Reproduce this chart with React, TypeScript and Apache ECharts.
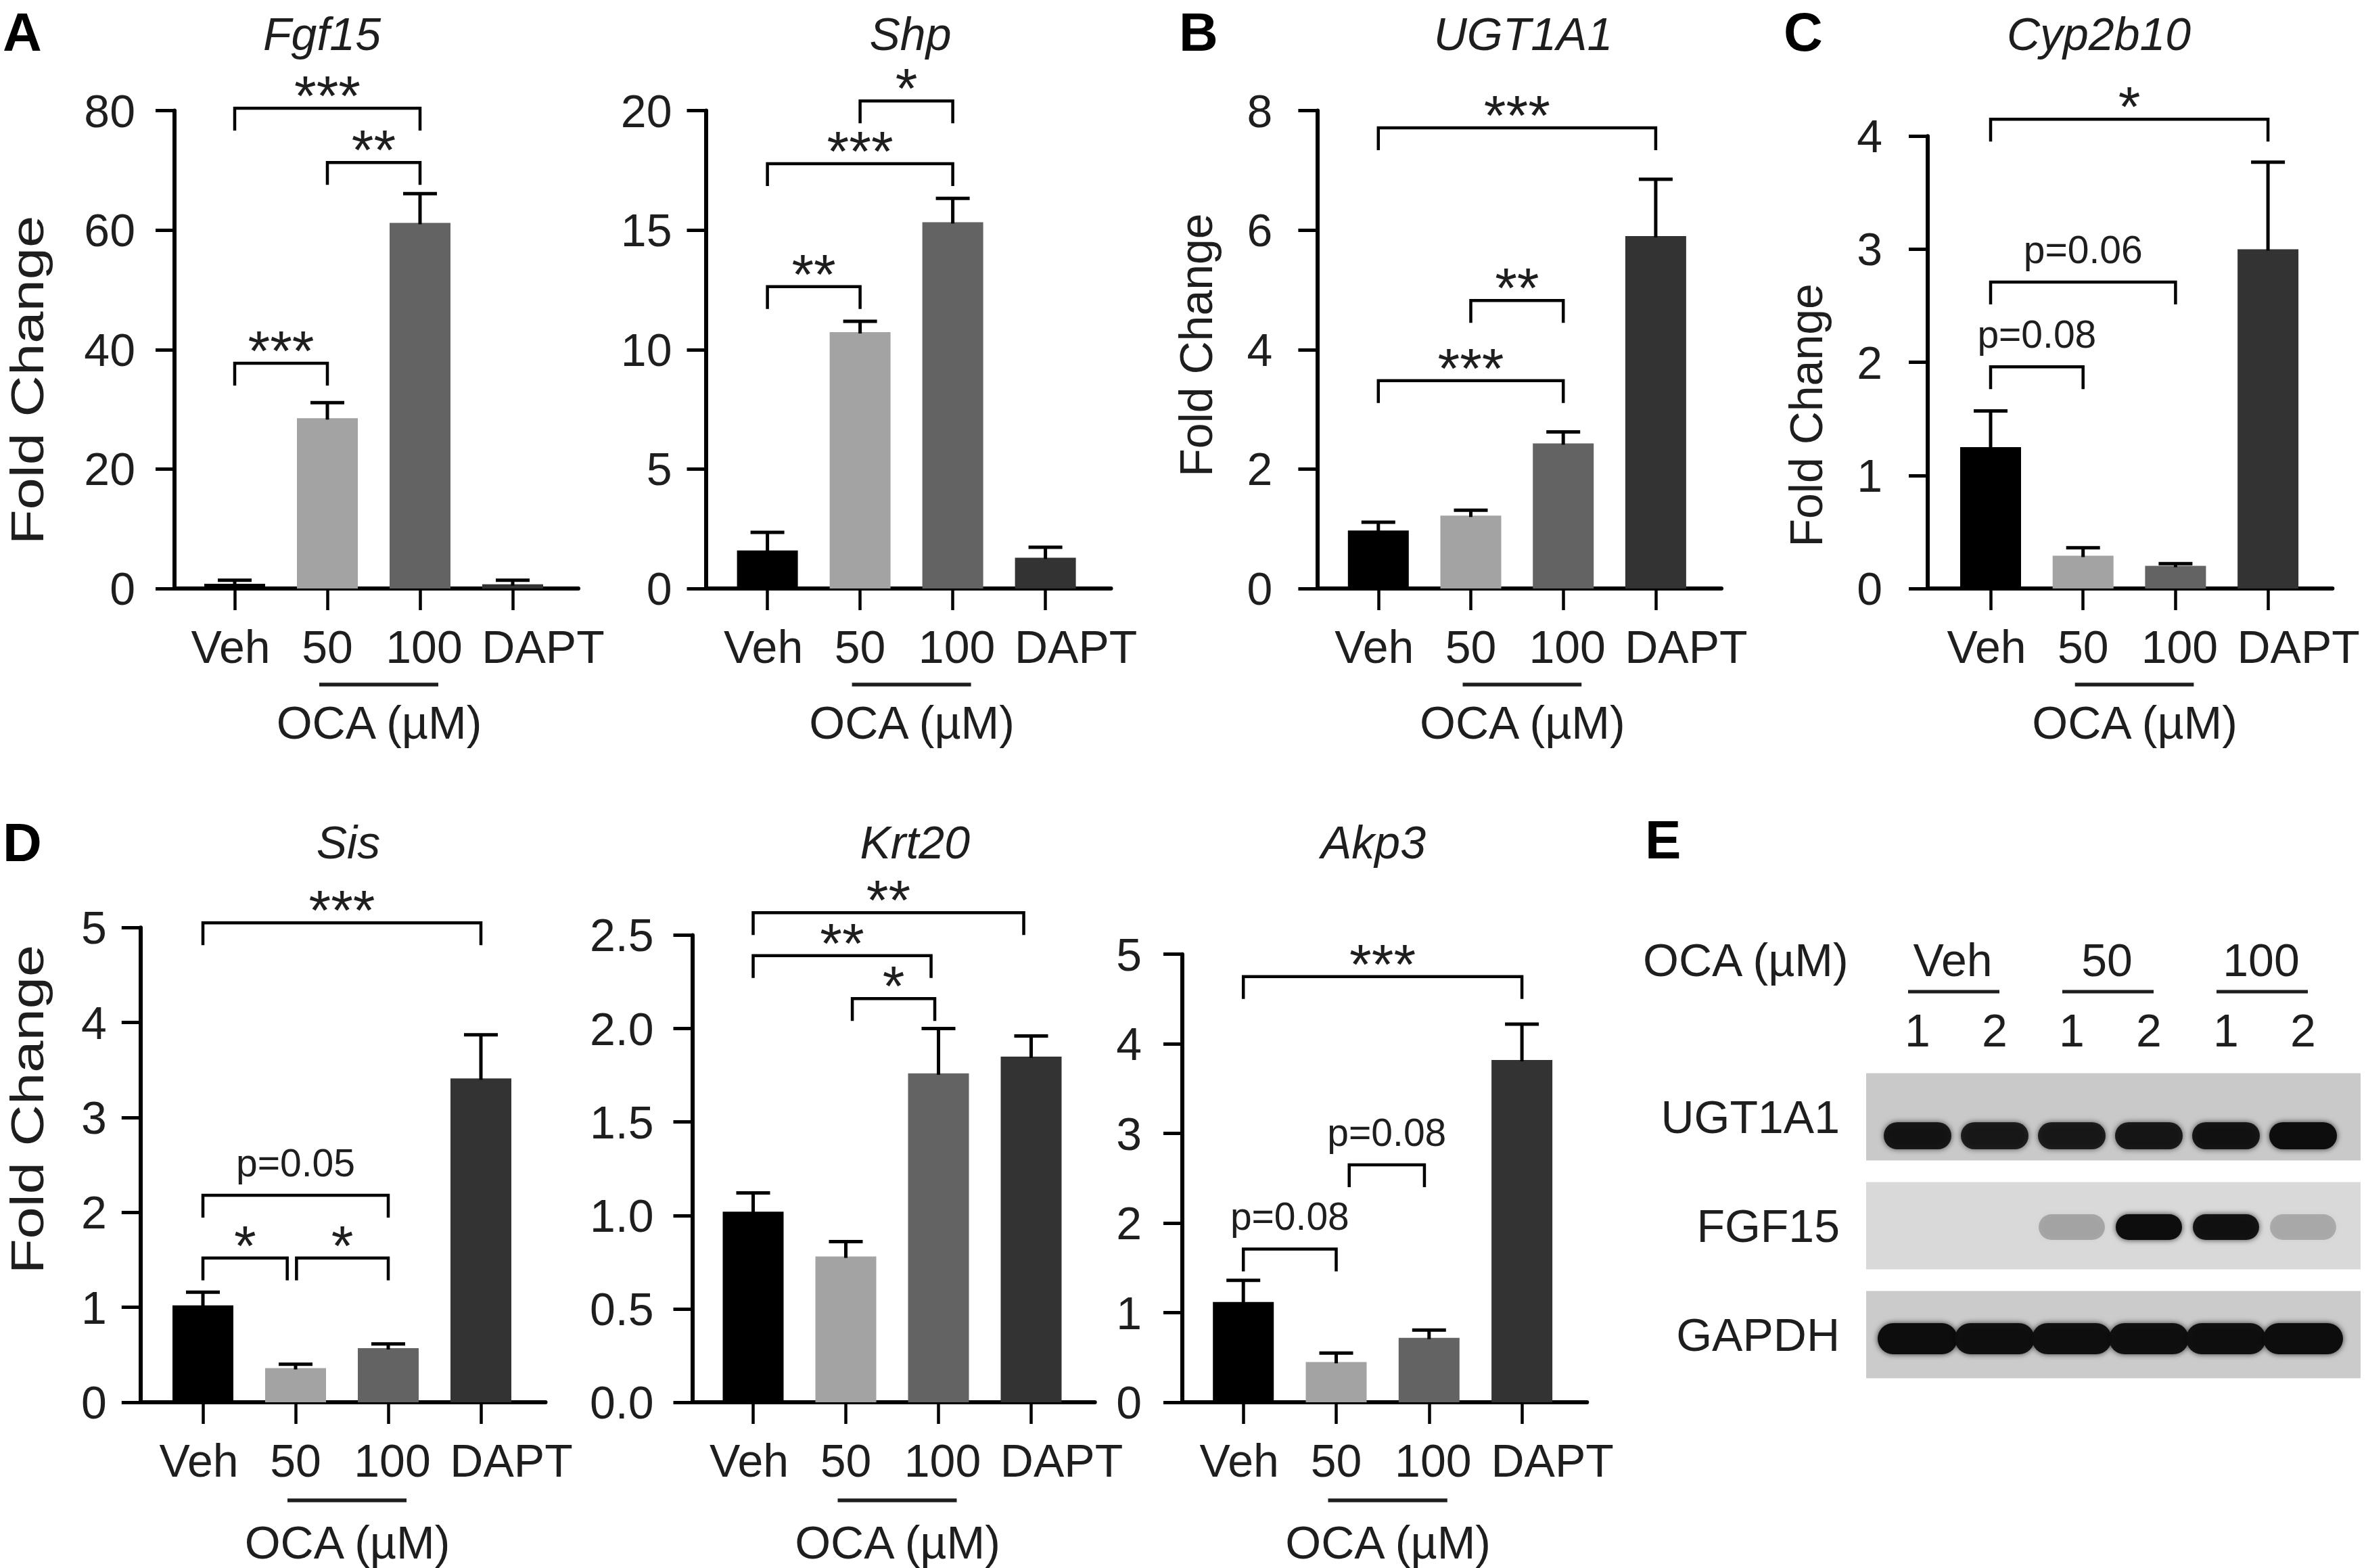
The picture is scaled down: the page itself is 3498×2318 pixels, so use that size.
import React, { useEffect, useRef } from "react";
import * as echarts from "echarts";

const FONT = '"Liberation Sans", Arimo, Arial, sans-serif';
const INK = "#1e1e1e";

const categories = ["Veh", "50", "100", "DAPT"];
const barColors = ["#000000", "#a3a3a3", "#636363", "#333333"];

// A – Fgf15
const fgf15Ticks = [0, 20, 40, 60, 80];
const fgf15Mean = [0.8, 28.5, 61.2, 0.7];
const fgf15Sem = [0.6, 2.6, 4.9, 0.7];
const fgf15Pairs = [[0, 2], [1, 2], [0, 1]];
const fgf15Levels = [80.4, 71.3, 37.7];
const fgf15Marks = ["***", "**", "***"];

// A – Shp
const shpTicks = [0, 5, 10, 15, 20];
const shpMean = [1.59, 10.73, 15.33, 1.29];
const shpSem = [0.76, 0.45, 1.0, 0.44];
const shpPairs = [[1, 2], [0, 2], [0, 1]];
const shpLevels = [20.4, 17.78, 12.63];
const shpMarks = ["*", "***", "**"];

// B – UGT1A1
const ugtTicks = [0, 2, 4, 6, 8];
const ugtMean = [0.97, 1.22, 2.43, 5.9];
const ugtSem = [0.14, 0.09, 0.19, 0.95];
const ugtPairs = [[0, 3], [1, 2], [0, 2]];
const ugtLevels = [7.71, 4.82, 3.48];
const ugtMarks = ["***", "**", "***"];

// C – Cyp2b10
const cypTicks = [0, 1, 2, 3, 4];
const cypMean = [1.25, 0.29, 0.2, 3.0];
const cypSem = [0.32, 0.07, 0.02, 0.77];
const cypPairs = [[0, 3], [0, 2], [0, 1]];
const cypLevels = [4.15, 2.71, 1.96];
const cypMarks = ["*", "p=0.06", "p=0.08"];

// D – Sis
const sisTicks = [0, 1, 2, 3, 4, 5];
const sisMean = [1.02, 0.36, 0.57, 3.41];
const sisSem = [0.14, 0.04, 0.045, 0.46];
const sisPairs = [[0, 3], [0, 2], [0, 0.91], [1.01, 2]];
const sisLevels = [5.05, 2.18, 1.52, 1.52];
const sisMarks = ["***", "p=0.05", "*", "*"];

// D – Krt20
const krtTicks = [0, 0.5, 1.0, 1.5, 2.0, 2.5];
const krtMean = [1.02, 0.78, 1.76, 1.85];
const krtSem = [0.1, 0.08, 0.24, 0.11];
const krtPairs = [[0, 2.92], [0, 1.92], [1.07, 1.96]];
const krtLevels = [2.62, 2.39, 2.16];
const krtMarks = ["**", "**", "*"];

// D – Akp3
const akpTicks = [0, 1, 2, 3, 4, 5];
const akpMean = [1.12, 0.45, 0.72, 3.82];
const akpSem = [0.24, 0.1, 0.085, 0.4];
const akpPairs = [[0, 3], [1.14, 1.95], [0, 1]];
const akpLevels = [4.75, 2.65, 1.71];
const akpMarks = ["***", "p=0.08", "p=0.08"];

// E – western blot
const blotGroups = ["Veh", "50", "100"];
const blotLanes = ["1", "2", "1", "2", "1", "2"];
const blotProteins = ["UGT1A1", "FGF15", "GAPDH"];
const ugtBand = [0.92, 0.88, 0.88, 0.9, 0.93, 1.0];
const fgfBand = [0.0, 0.0, 0.22, 1.0, 0.95, 0.2];
const gapdhBand = [1.0, 0.97, 0.97, 0.97, 0.97, 1.0];

// ---------- layout / style (not data) ----------
const TOP_ROW = { line: 142, text: 198 };
const BOTTOM_ROW = { line: 145, text: 207 };

const panels = [
  { title: "Fgf15", ticks: fgf15Ticks, mean: fgf15Mean, sem: fgf15Sem, pairs: fgf15Pairs, levels: fgf15Levels, marks: fgf15Marks, dec: 0,
    L: { axisX: 258, axisEnd: 855, top: 163.5, zero: 870, c0: 347, step: 137, lm: 58, tx: 476, ty: 50, row: TOP_ROW, yTitle: [40, 562, 1.25] } },
  { title: "Shp", ticks: shpTicks, mean: shpMean, sem: shpSem, pairs: shpPairs, levels: shpLevels, marks: shpMarks, dec: 0,
    L: { axisX: 1043.5, axisEnd: 1642.5, top: 163.5, zero: 870, c0: 1134.6, step: 137, lm: 50, tx: 1346, ty: 50, row: TOP_ROW } },
  { title: "UGT1A1", ticks: ugtTicks, mean: ugtMean, sem: ugtSem, pairs: ugtPairs, levels: ugtLevels, marks: ugtMarks, dec: 0,
    L: { axisX: 1947.4, axisEnd: 2545, top: 163.5, zero: 870, c0: 2037.8, step: 136.7, lm: 66, tx: 2252, ty: 50, row: TOP_ROW, yTitle: [1768, 510, 1.0] } },
  { title: "Cyp2b10", ticks: cypTicks, mean: cypMean, sem: cypSem, pairs: cypPairs, levels: cypLevels, marks: cypMarks, dec: 0,
    L: { axisX: 2850, axisEnd: 3448.4, top: 201.3, zero: 870, c0: 2943, step: 136.7, lm: 67, tx: 3103, ty: 50, row: TOP_ROW, yTitle: [2670, 613.8, 1.0] } },
  { title: "Sis", ticks: sisTicks, mean: sisMean, sem: sisSem, pairs: sisPairs, levels: sisLevels, marks: sisMarks, dec: 0,
    L: { axisX: 207.8, axisEnd: 806.5, top: 1371.2, zero: 2073, c0: 300, step: 137, lm: 50, tx: 515, ty: 1245, row: BOTTOM_ROW, yTitle: [40, 1640, 1.25] } },
  { title: "Krt20", ticks: krtTicks, mean: krtMean, sem: krtSem, pairs: krtPairs, levels: krtLevels, marks: krtMarks, dec: 1,
    L: { axisX: 1023.5, axisEnd: 1618.7, top: 1382.4, zero: 2073, c0: 1113.5, step: 137, lm: 57, tx: 1352.7, ty: 1245, row: BOTTOM_ROW } },
  { title: "Akp3", ticks: akpTicks, mean: akpMean, sem: akpSem, pairs: akpPairs, levels: akpLevels, marks: akpMarks, dec: 0,
    L: { axisX: 1748, axisEnd: 2346.3, top: 1410.7, zero: 2073, c0: 1838.2, step: 137.3, lm: 60, tx: 2030.5, ty: 1245, row: BOTTOM_ROW } },
];

const panelLetters: [string, number, number][] = [
  ["A", 4, 47], ["B", 1743, 47], ["C", 2637, 47], ["D", 4, 1245], ["E", 2432, 1241],
];

const labelShift = [-6, 0, 6, 45];
const FS = 68;

const BLOT = { left: 2778, top: 1570.5, laneW: 114, rowH: 161 };
const blotBoxColors = ["#c9c9c9", "#d9d9d9", "#cbcbcb"];
const blotBandW = [100, 98, 118];
const blotBandH = [40, 38, 46];
const blotBandDY = [28, 2, 6];

function txt(text: string, x: number, y: number, size: number, extra: any = {}, el: any = {}) {
  return {
    type: "text", x, y, silent: true, ...el,
    style: {
      text, fill: INK, fontSize: size, fontFamily: FONT,
      align: "center", verticalAlign: "middle", textAlign: "center", textVerticalAlign: "middle",
      ...extra,
    },
  };
}

function buildOption() {
  const grid: any[] = [];
  const xAxis: any[] = [];
  const yAxis: any[] = [];
  const series: any[] = [];
  const g: any[] = [];

  const rich: any = {};
  labelShift.forEach((s, i) => {
    rich["c" + i] = {
      fontSize: FS, fontFamily: FONT, color: INK, lineHeight: FS,
      padding: s >= 0 ? [0, 0, 0, 2 * s] : [0, -2 * s, 0, 0],
    };
  });

  panels.forEach((p) => {
    const L: any = p.L;
    const gi = grid.length;
    const h = L.zero - L.top;
    grid.push({ left: L.axisX, top: L.top, width: L.axisEnd - L.axisX, height: h });
    grid.push({ left: L.c0 - L.step / 2, top: L.top, width: L.step * 4, height: h });
    const xi = xAxis.length;
    const yi = yAxis.length;
    const tMin = p.ticks[0];
    const tMax = p.ticks[p.ticks.length - 1];
    const tInt = p.ticks[1] - p.ticks[0];

    xAxis.push({
      gridIndex: gi, type: "value", min: 0, max: 1,
      axisLine: { show: true, onZero: false, lineStyle: { color: "#000", width: 6 } },
      axisTick: { show: false }, axisLabel: { show: false }, splitLine: { show: false },
    });
    xAxis.push({
      gridIndex: gi + 1, type: "category", data: categories, boundaryGap: true,
      axisLine: { show: false },
      axisTick: { show: true, alignWithLabel: true, length: 32, lineStyle: { color: "#000", width: 4.5 } },
      axisLabel: { interval: 0, margin: 52, formatter: (v: string, i: number) => `{c${i}|${v}}`, rich },
      splitLine: { show: false },
    });
    yAxis.push({
      gridIndex: gi, type: "value", min: tMin, max: tMax, interval: tInt,
      axisLine: { show: true, onZero: false, lineStyle: { color: "#000", width: 6 } },
      axisTick: { show: true, length: 28, lineStyle: { color: "#000", width: 5 } },
      axisLabel: {
        margin: L.lm, fontSize: FS, fontFamily: FONT, color: INK,
        formatter: (v: number) => (p.dec ? v.toFixed(p.dec) : String(v)),
      },
      splitLine: { show: false },
    });
    yAxis.push({ gridIndex: gi + 1, type: "value", min: tMin, max: tMax, show: false });

    series.push({
      type: "bar", xAxisIndex: xi + 1, yAxisIndex: yi + 1, barWidth: 90, silent: true,
      data: p.mean.map((v, i) => ({ value: v, itemStyle: { color: barColors[i] } })),
    });

    series.push({
      type: "custom", xAxisIndex: xi + 1, yAxisIndex: yi + 1, clip: false, silent: true, z: 3,
      data: p.mean.map((m, i) => [i, m, p.sem[i]]),
      encode: { x: 0, y: 1 },
      renderItem: (params: any, api: any) => {
        const i = params.dataIndex;
        const m = p.mean[i];
        const e = p.sem[i];
        const base = api.coord([i, m]);
        const tip = api.coord([i, m + e]);
        return {
          type: "group",
          children: [
            { type: "line", shape: { x1: base[0], y1: base[1] + 2, x2: base[0], y2: tip[1] }, style: { stroke: "#000", lineWidth: 5 } },
            { type: "line", shape: { x1: base[0] - 25, y1: tip[1], x2: base[0] + 25, y2: tip[1] }, style: { stroke: "#000", lineWidth: 5 } },
          ],
        };
      },
    });

    series.push({
      type: "custom", xAxisIndex: xi + 1, yAxisIndex: yi + 1, clip: false, silent: true, z: 3,
      data: p.pairs.map((pr, k) => [Math.round(pr[0]), p.levels[k]]),
      encode: { x: 0, y: 1 },
      renderItem: (params: any, api: any) => {
        const k = params.dataIndex;
        const pr = p.pairs[k];
        const o = api.coord([0, p.levels[k]]);
        const bw = api.size([1, 0])[0];
        const x1 = o[0] + pr[0] * bw;
        const x2 = o[0] + pr[1] * bw;
        const y = o[1];
        const yb = y + 33;
        const label = p.marks[k];
        const star = label.charAt(0) === "*";
        return {
          type: "group",
          children: [
            { type: "polyline", shape: { points: [[x1, yb], [x1, y], [x2, y], [x2, yb]] }, style: { stroke: "#000", lineWidth: 4.5, fill: "none" } },
            {
              type: "text", x: (x1 + x2) / 2, y: star ? y - 18 : y - 48,
              style: { text: label, fill: INK, fontSize: star ? 84 : 57, fontFamily: FONT, align: "center", verticalAlign: "middle" },
            },
          ],
        };
      },
    });

    // gene title
    g.push(txt(p.title, L.tx, L.ty, FS, { fontStyle: "italic" }));
    // OCA grouping line + label
    const c1 = L.c0 + L.step;
    const c2 = L.c0 + 2 * L.step;
    g.push({
      type: "line", silent: true,
      shape: { x1: c1 - 12, y1: L.zero + L.row.line, x2: c2 + 27, y2: L.zero + L.row.line },
      style: { stroke: "#1e1e1e", lineWidth: 5.5 },
    });
    g.push(txt("OCA (µM)", (c1 + c2) / 2 + 8, L.zero + L.row.text, FS));
    if (L.yTitle) {
      const yt = L.yTitle;
      g.push(txt("Fold Change", yt[0], yt[1], FS, {}, { rotation: Math.PI / 2, scaleX: yt[2], scaleY: 1 }));
    }
  });

  // panel letters
  panelLetters.forEach(([t, x, y]) => {
    g.push(txt(t, x, y, 80, { fontWeight: "bold", fill: "#000", align: "left", textAlign: "left" }));
  });

  // ---------- E: western blot ----------
  const bgi = grid.length;
  grid.push({ left: BLOT.left, top: BLOT.top, width: BLOT.laneW * blotLanes.length, height: BLOT.rowH * blotProteins.length });
  const bxi = xAxis.length;
  const byi = yAxis.length;
  xAxis.push({
    gridIndex: bgi, type: "category", position: "top", data: blotLanes,
    axisLine: { show: false }, axisTick: { show: false }, splitLine: { show: false },
    axisLabel: { interval: 0, margin: 13.5, fontSize: FS, lineHeight: FS, fontFamily: FONT, color: INK },
  });
  yAxis.push({
    gridIndex: bgi, type: "category", inverse: true, data: blotProteins,
    axisLine: { show: false }, axisTick: { show: false }, splitLine: { show: false },
    axisLabel: { interval: 0, margin: 58, fontSize: FS, fontFamily: FONT, color: INK, padding: [0, 0, 12, 0] },
  });
  series.push({
    type: "custom", xAxisIndex: bxi, yAxisIndex: byi, clip: false, silent: true, z: 1,
    data: blotProteins.map((_, r) => [0, r]),
    encode: { x: 0, y: 1 },
    renderItem: (params: any, api: any) => {
      const r = params.dataIndex;
      const c = api.coord([0, r]);
      const cs = params.coordSys;
      return {
        type: "rect",
        shape: { x: cs.x - 19, y: c[1] - 64.5, width: cs.width + 47, height: 129 },
        style: { fill: blotBoxColors[r] },
      };
    },
  });
  const bandRows = [ugtBand, fgfBand, gapdhBand];
  const bandData: number[][] = [];
  bandRows.forEach((row, r) => row.forEach((a, l) => bandData.push([l, r, a])));
  series.push({
    type: "custom", xAxisIndex: bxi, yAxisIndex: byi, clip: false, silent: true, z: 2,
    data: bandData,
    encode: { x: 0, y: 1 },
    renderItem: (params: any, api: any) => {
      const [l, r, a] = bandData[params.dataIndex];
      if (a <= 0.01) return null;
      const c = api.coord([l, r]);
      const w = blotBandW[r];
      const hh = blotBandH[r];
      return {
        type: "rect",
        shape: { x: c[0] - w / 2, y: c[1] + blotBandDY[r] - hh / 2, width: w, height: hh, r: hh / 2 },
        style: { fill: `rgba(14,14,14,${a})`, shadowBlur: 8, shadowColor: `rgba(0,0,0,${a * 0.75})` },
      };
    },
  });
  // blot header
  g.push(txt("OCA (µM)", 2429, 1419, FS, { align: "left", textAlign: "left" }));
  blotGroups.forEach((name, k) => {
    const la = BLOT.left + BLOT.laneW * (2 * k + 0.5);
    const lb = BLOT.left + BLOT.laneW * (2 * k + 1.5);
    g.push(txt(name, (la + lb) / 2 - 5, 1419, FS));
    g.push({ type: "line", silent: true, shape: { x1: la - 14, y1: 1466, x2: lb + 7, y2: 1466 }, style: { stroke: "#1e1e1e", lineWidth: 5 } });
  });

  return {
    animation: false,
    backgroundColor: "#ffffff",
    grid, xAxis, yAxis, series,
    graphic: { elements: g },
  };
}

export default function App() {
  const ref = useRef<HTMLDivElement>(null);
  useEffect(() => {
    document.body.style.margin = "0";
    const chart = echarts.init(ref.current as HTMLDivElement, null, { renderer: "svg", width: 3498, height: 2318 });
    chart.setOption(buildOption() as any);
    return () => chart.dispose();
  }, []);
  return <div ref={ref} style={{ width: 3498, height: 2318, background: "#fff" }} />;
}
